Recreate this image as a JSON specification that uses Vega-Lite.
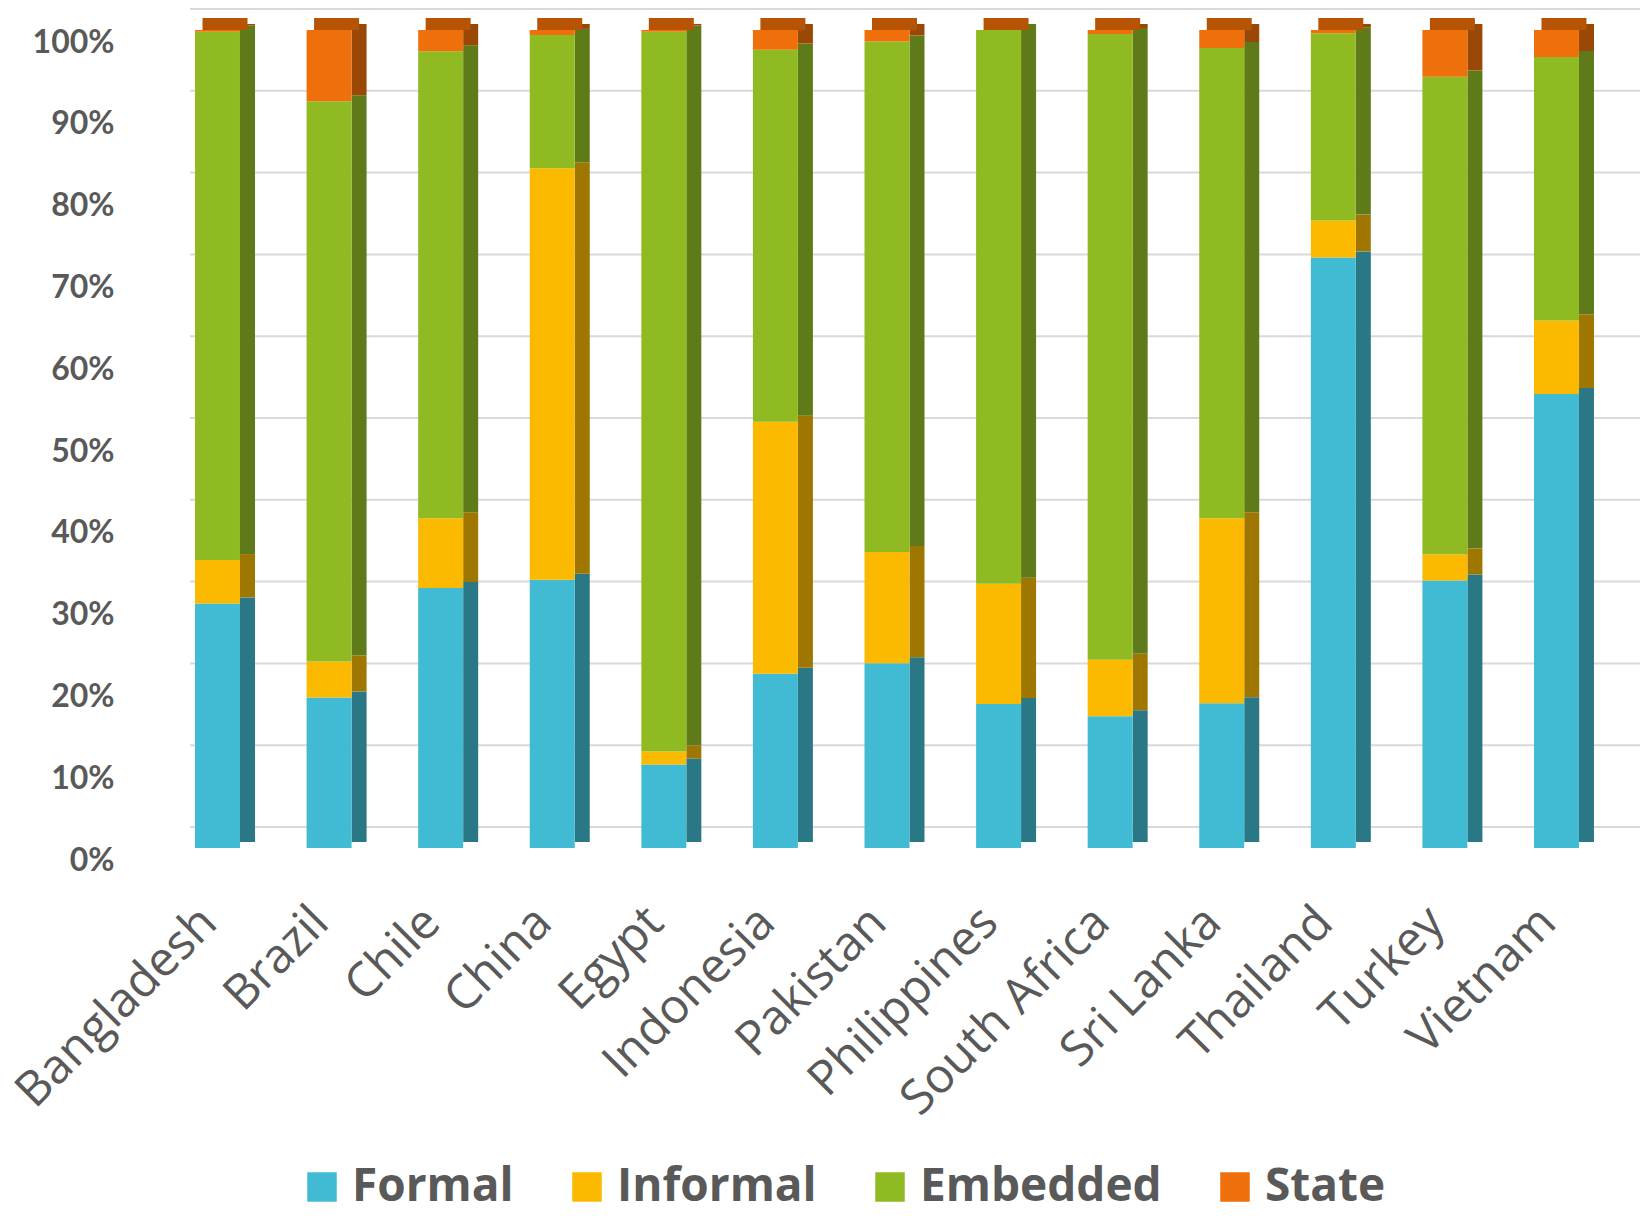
{
  "$schema": "https://vega.github.io/schema/vega-lite/v6.json",
  "width": 1450,
  "height": 818,
  "autosize": "none",
  "padding": {"left": 190, "top": 30, "right": 12, "bottom": 368},
  "background": "white",
  "config": {"view": {"stroke": null}},
  "datasets": {
    "shares": [
      {"country": "Bangladesh", "type": "Formal", "share": 29.9},
      {"country": "Bangladesh", "type": "Informal", "share": 5.3},
      {"country": "Bangladesh", "type": "Embedded", "share": 64.6},
      {"country": "Bangladesh", "type": "State", "share": 0.2},
      {"country": "Brazil", "type": "Formal", "share": 18.4},
      {"country": "Brazil", "type": "Informal", "share": 4.4},
      {"country": "Brazil", "type": "Embedded", "share": 68.5},
      {"country": "Brazil", "type": "State", "share": 8.7},
      {"country": "Chile", "type": "Formal", "share": 31.8},
      {"country": "Chile", "type": "Informal", "share": 8.5},
      {"country": "Chile", "type": "Embedded", "share": 57.1},
      {"country": "Chile", "type": "State", "share": 2.6},
      {"country": "China", "type": "Formal", "share": 32.8},
      {"country": "China", "type": "Informal", "share": 50.3},
      {"country": "China", "type": "Embedded", "share": 16.3},
      {"country": "China", "type": "State", "share": 0.6},
      {"country": "Egypt", "type": "Formal", "share": 10.2},
      {"country": "Egypt", "type": "Informal", "share": 1.6},
      {"country": "Egypt", "type": "Embedded", "share": 88.0},
      {"country": "Egypt", "type": "State", "share": 0.2},
      {"country": "Indonesia", "type": "Formal", "share": 21.3},
      {"country": "Indonesia", "type": "Informal", "share": 30.8},
      {"country": "Indonesia", "type": "Embedded", "share": 45.5},
      {"country": "Indonesia", "type": "State", "share": 2.4},
      {"country": "Pakistan", "type": "Formal", "share": 22.6},
      {"country": "Pakistan", "type": "Informal", "share": 13.6},
      {"country": "Pakistan", "type": "Embedded", "share": 62.4},
      {"country": "Pakistan", "type": "State", "share": 1.4},
      {"country": "Philippines", "type": "Formal", "share": 17.6},
      {"country": "Philippines", "type": "Informal", "share": 14.7},
      {"country": "Philippines", "type": "Embedded", "share": 67.7},
      {"country": "Philippines", "type": "State", "share": 0.0},
      {"country": "South Africa", "type": "Formal", "share": 16.1},
      {"country": "South Africa", "type": "Informal", "share": 6.9},
      {"country": "South Africa", "type": "Embedded", "share": 76.5},
      {"country": "South Africa", "type": "State", "share": 0.5},
      {"country": "Sri Lanka", "type": "Formal", "share": 17.7},
      {"country": "Sri Lanka", "type": "Informal", "share": 22.6},
      {"country": "Sri Lanka", "type": "Embedded", "share": 57.5},
      {"country": "Sri Lanka", "type": "State", "share": 2.2},
      {"country": "Thailand", "type": "Formal", "share": 72.2},
      {"country": "Thailand", "type": "Informal", "share": 4.5},
      {"country": "Thailand", "type": "Embedded", "share": 22.9},
      {"country": "Thailand", "type": "State", "share": 0.4},
      {"country": "Turkey", "type": "Formal", "share": 32.7},
      {"country": "Turkey", "type": "Informal", "share": 3.2},
      {"country": "Turkey", "type": "Embedded", "share": 58.4},
      {"country": "Turkey", "type": "State", "share": 5.7},
      {"country": "Vietnam", "type": "Formal", "share": 55.5},
      {"country": "Vietnam", "type": "Informal", "share": 9.0},
      {"country": "Vietnam", "type": "Embedded", "share": 32.2},
      {"country": "Vietnam", "type": "State", "share": 3.3}
    ],
    "grid": [
      {"v": 0}, {"v": 0.1}, {"v": 0.2}, {"v": 0.3}, {"v": 0.4}, {"v": 0.5},
      {"v": 0.6}, {"v": 0.7}, {"v": 0.8}, {"v": 0.9}, {"v": 1}
    ]
  },
  "layer": [
    {
      "data": {"name": "grid"},
      "mark": {"type": "rule", "color": "#D9D9D9", "strokeWidth": 2, "yOffset": -21},
      "encoding": {
        "y": {"field": "v", "type": "quantitative", "title": null,
              "scale": {"domain": [0, 1], "nice": false},
              "axis": {"format": ".0%", "values": [0, 0.1, 0.2, 0.3, 0.4, 0.5, 0.6, 0.7, 0.8, 0.9, 1],
                       "grid": false, "domain": false, "ticks": false, "title": null,
                       "labelFont": "Lato", "labelFontWeight": "bold", "labelFontSize": 32,
                       "labelColor": "#595959", "labelPadding": 76, "labelOffset": 12}}
      }
    },
    {
      "data": {"name": "shares"},
      "transform": [{"calculate": "indexof(['Formal','Informal','Embedded','State'], datum.type)", "as": "ord"}],
      "mark": {"type": "bar", "width": 15, "xOffset": 30, "yOffset": -6},
      "encoding": {
        "x": {"field": "country", "type": "nominal", "sort": null,
              "scale": {"paddingInner": 0.597, "paddingOuter": 0.296, "align": 0.076}},
        "y": {"field": "share", "type": "quantitative", "stack": "normalize"},
        "order": {"field": "ord", "type": "quantitative"},
        "color": {"field": "type", "type": "nominal",
                  "scale": {"domain": ["Formal", "Informal", "Embedded", "State"],
                            "range": ["#2A7886", "#9F7700", "#5E7A19", "#994805"]},
                  "legend": null}
      }
    },
    {
      "data": {"name": "shares"},
      "transform": [{"filter": "datum.type == 'State'"}],
      "mark": {"type": "tick", "orient": "horizontal", "size": 45, "thickness": 12, "xOffset": 7.5, "yOffset": -6, "color": "#B65404", "opacity": 1},
      "encoding": {
        "x": {"field": "country", "type": "nominal", "sort": null},
        "y": {"datum": 1, "type": "quantitative"}
      }
    },
    {
      "data": {"name": "shares"},
      "transform": [{"calculate": "indexof(['Formal','Informal','Embedded','State'], datum.type)", "as": "ord"}],
      "mark": {"type": "bar"},
      "encoding": {
        "x": {"field": "country", "type": "nominal", "sort": null, "title": null,
              "axis": {"labelAngle": -45, "labelAlign": "right", "labelBaseline": "middle",
                       "labelFont": "Open Sans", "labelFontSize": 48, "labelColor": "#595959",
                       "labelPadding": 67, "labelOffset": -8, "ticks": false, "domain": false,
                       "labelOverlap": false, "labelBound": false, "labelLimit": 500}},
        "y": {"field": "share", "type": "quantitative", "stack": "normalize"},
        "order": {"field": "ord", "type": "quantitative"},
        "color": {"field": "type", "type": "nominal",
                  "scale": {"domain": ["Formal", "Informal", "Embedded", "State"],
                            "range": ["#41BAD4", "#FBBA00", "#8FBA22", "#EF6F0A"]},
                  "legend": {"title": null, "orient": "none", "direction": "horizontal",
                             "legendX": 109, "legendY": 1134,
                             "symbolType": "square", "symbolSize": 870, "symbolStrokeWidth": 0,
                             "labelFont": "Open Sans", "labelFontWeight": "bold", "labelFontSize": 46,
                             "labelColor": "#595959", "labelOffset": 7, "columnPadding": 50,
                             "labelLimit": 400}}
      }
    }
  ],
  "resolve": {"scale": {"color": "independent"}}
}
